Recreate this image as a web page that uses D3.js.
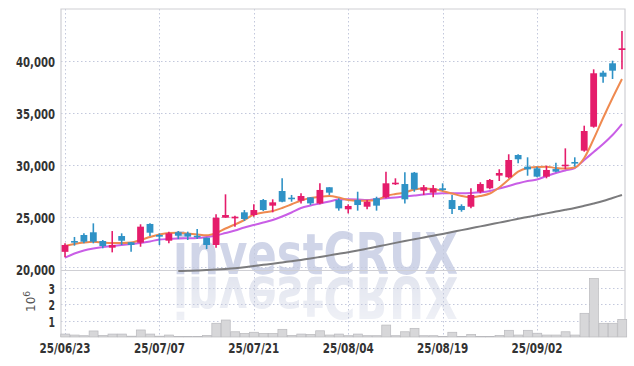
<!DOCTYPE html>
<html>
<head>
<meta charset="utf-8">
<script src="https://cdnjs.cloudflare.com/ajax/libs/d3/7.8.5/d3.min.js"></script>
<style>
body { margin: 0; background: #fff; }
svg { display: block; }
</style>
</head>
<body>
<div class="chart"></div>
<script>
var dates = [
    '25/06/23', '25/06/24', '25/06/25', '25/06/26', '25/06/27', '25/06/30',
    '25/07/01', '25/07/02', '25/07/03', '25/07/04', '25/07/07', '25/07/08', '25/07/09', '25/07/10', '25/07/11',
    '25/07/14', '25/07/15', '25/07/16', '25/07/17', '25/07/18', '25/07/21', '25/07/22', '25/07/23', '25/07/24',
    '25/07/25', '25/07/28', '25/07/29', '25/07/30', '25/07/31',
    '25/08/01', '25/08/04', '25/08/05', '25/08/06', '25/08/07', '25/08/08', '25/08/11', '25/08/12', '25/08/13',
    '25/08/14', '25/08/18', '25/08/19', '25/08/20', '25/08/21', '25/08/22', '25/08/25', '25/08/26', '25/08/27',
    '25/08/28', '25/08/29',
    '25/09/01', '25/09/02', '25/09/03', '25/09/04', '25/09/05', '25/09/08', '25/09/09', '25/09/10', '25/09/11',
    '25/09/12', '25/09/15'
]
var openP = [21650, 22690, 23270, 23530, 22690, 22050, 23170, 22570, 22530, 24330,
    23270, 22720, 23530, 23430, 23200, 23010, 22310, 24930, 24870, 25450,
    25190, 26630, 26090, 27500, 26860, 26570, 26890, 26310, 27860, 26630,
    25740, 26630, 25990, 26800, 26890, 28170, 28170, 29260, 27530, 27340,
    27760, 26630, 26060, 25990, 27430, 27760, 28980, 28820, 30960, 29840,
    29680, 28880, 29610, 29940, 30290, 31380, 33680, 38880, 39780, 41060]
var highP = [22470, 23080, 23430, 24390, 22790, 23650, 23430, 22600, 24300, 24400,
    23430, 23590, 23650, 23590, 23850, 23010, 25260, 27180, 25130, 25670,
    26220, 26730, 26700, 28720, 27120, 27280, 26890, 28240, 27860, 26800,
    26220, 27430, 26630, 26950, 29360, 28720, 29300, 29330, 28080, 28080,
    28240, 27120, 26220, 27760, 28340, 28650, 29590, 31030, 31030, 30740,
    29840, 29930, 30220, 31600, 30740, 33780, 39200, 39070, 40030, 42880]
var lowP = [21120, 22240, 22470, 22470, 21990, 21600, 22310, 21660, 22140, 23170,
    22310, 22470, 22880, 22790, 22880, 21920, 22050, 24930, 24070, 24620,
    25030, 25580, 25450, 26410, 26470, 26310, 26150, 26220, 27120, 25610,
    25350, 25610, 25740, 25610, 26800, 28080, 26310, 27430, 27120, 26890,
    27530, 25290, 25510, 25830, 27280, 27660, 28460, 28720, 30160, 28970,
    28820, 28720, 29300, 29590, 29840, 31280, 33590, 37920, 38270, 39200]
var closeP = [22310, 22600, 22625, 22625, 22210, 22310, 22720, 22310, 24070, 23490,
    23110, 23430, 23200, 23110, 23050, 22310, 24930, 25190, 25030, 24810,
    25670, 25670, 26410, 26470, 26800, 27020, 26310, 27600, 27340, 25830,
    26060, 26150, 26470, 26090, 28240, 28300, 26700, 27660, 27860, 27760,
    27600, 25770, 25670, 27120, 28170, 28560, 29230, 30480, 30550, 29580,
    28880, 29520, 29360, 30030, 30190, 33270, 38820, 38490, 39070, 41220]
var volume = [0.18, 0.12, 0.08, 0.37, 0.10, 0.18, 0.18, 0.05, 0.43, 0.18,
    0.05, 0.12, 0.03, 0.03, 0.03, 0.10, 0.84, 1.04, 0.32, 0.22,
    0.29, 0.22, 0.22, 0.47, 0.10, 0.18, 0.16, 0.38, 0.12, 0.18,
    0.08, 0.18, 0.08, 0.08, 0.73, 0.08, 0.32, 0.53, 0.08, 0.08,
    0.04, 0.29, 0.04, 0.16, 0.04, 0.04, 0.10, 0.41, 0.12, 0.41,
    0.23, 0.12, 0.12, 0.32, 0.12, 1.45, 3.58, 0.84, 0.84, 1.08]
// moving averages (orange = short, violet = mid, gray = long)
var maShort = [22211, 22404, 22548, 22625, 22548, 22500, 22500, 22548, 22788, 23077,
    23317, 23462, 23490, 23413, 23317, 23240, 23462, 23894, 24279, 24712,
    25240, 25433, 25577, 25865, 26221, 26587, 26827, 26952, 27019, 26875,
    26635, 26567, 26567, 26635, 27019, 27212, 27356, 27644, 27740, 27692,
    27500, 27260, 27019, 26894, 27019, 27260, 27837, 28606, 29356, 29712,
    29808, 29837, 29712, 29663, 29760, 30673, 32500, 34519, 36442, 38269]
var maMid = [21087, 21490, 21779, 21971, 22115, 22212, 22308, 22404, 22500, 22644,
    22837, 22885, 22933, 22952, 22981, 23077, 23221, 23462, 23702, 23990,
    24231, 24471, 24712, 25048, 25433, 25865, 26106, 26298, 26490, 26683,
    26702, 26683, 26635, 26731, 26798, 26875, 26971, 27067, 27163, 27231,
    27279, 27279, 27279, 27308, 27375, 27500, 27740, 27981, 28240, 28462,
    28606, 28942, 29231, 29471, 29712, 30481, 31250, 32019, 32885, 33942]
var maLong = [null, null, null, null, null, null, null, null, null, null,
    null, null, 19810, 19830, 19860, 19900, 19950, 20010, 20080, 20170,
    20290, 20400, 20510, 20630, 20750, 20870, 21010, 21160, 21310, 21460,
    21610, 21780, 21960, 22140, 22320, 22510, 22690, 22860, 23030, 23200,
    23370, 23550, 23740, 23920, 24100, 24280, 24460, 24640, 24830, 25000,
    25170, 25350, 25520, 25690, 25870, 26080, 26300, 26540, 26830, 27120]
var priceTicks = [20000, 25000, 30000, 35000, 40000]
var volTicks = [1, 2, 3]
var dateTicks = ['25/06/23', '25/07/07', '25/07/21', '25/08/04', '25/08/19', '25/09/02']

var W = 634, H = 366
var pLeft = 61, pRight = 625, pTop = 9, pSplit = 270, pBottom = 337
var upColor = '#e51c6b', downColor = '#2f92c6'
var gridColor = '#c3c8dc'
var labelFont = "'DejaVu Sans', sans-serif"

var svg = d3.select('.chart')
    .append('svg')
    .attr('width', W)
    .attr('height', H)

var data = dates.map(function (d, i) {
    return {date: d, o: openP[i], h: highP[i], l: lowP[i], c: closeP[i], v: volume[i],
        m1: maShort[i], m2: maMid[i], m3: maLong[i]}
})

var xScale = d3.scaleBand()
    .domain(dates)
    .range([60.3, 60.3 + 9.44 * dates.length])
    .padding(0)
var bw = xScale.bandwidth()
function cx(d) { return xScale(d) + bw / 2 }

var yScale = d3.scaleLinear()
    .domain([20000, 45000])
    .range([269, pTop])

var vScale = d3.scaleLinear()
    .domain([0, 4.1])
    .range([pBottom, pSplit])

// watermark + reflection
var defs = svg.append('defs')
var grad = defs.append('linearGradient')
    .attr('id', 'fade')
    .attr('x1', 0).attr('y1', 0).attr('x2', 0).attr('y2', 1)
grad.append('stop').attr('offset', '0%').attr('stop-color', '#fff').attr('stop-opacity', 1)
grad.append('stop').attr('offset', '100%').attr('stop-color', '#fff').attr('stop-opacity', 0.5)
defs.append('mask').attr('id', 'wmMask')
    .append('rect')
    .attr('x', 0).attr('y', 276).attr('width', W).attr('height', 50)
    .attr('fill', 'url(#fade)')

function wmText(g, fill) {
    return g.append('text')
        .attr('x', 173).attr('y', 274)
        .attr('textLength', 285)
        .attr('lengthAdjust', 'spacingAndGlyphs')
        .style('font-family', "'DejaVu Sans', sans-serif")
        .style('font-weight', 'bold')
        .style('font-size', '57px')
        .attr('fill', fill)
        .text('investCRUX')
}
var wm = svg.append('g')
wmText(wm, '#d0d5e8')
wmText(wm.append('g').attr('mask', 'url(#wmMask)'), '#e2e5ef')
    .attr('transform', 'translate(0,551) scale(1,-1)')

// grid
var grid = svg.append('g')
    .attr('stroke', gridColor)
    .attr('stroke-width', 1)
    .attr('stroke-dasharray', '1.5,2.5')
grid.selectAll('.hp')
    .data(priceTicks.slice(1))
    .enter().append('line')
    .attr('x1', pLeft).attr('x2', pRight)
    .attr('y1', function (d) { return Math.round(yScale(d)) + 0.5 })
    .attr('y2', function (d) { return Math.round(yScale(d)) + 0.5 })
grid.append('line')
    .attr('x1', pLeft).attr('x2', pRight)
    .attr('y1', 267.5).attr('y2', 267.5)
grid.selectAll('.hv')
    .data(volTicks)
    .enter().append('line')
    .attr('x1', pLeft).attr('x2', pRight)
    .attr('y1', function (d) { return Math.round(vScale(d)) + 0.5 })
    .attr('y2', function (d) { return Math.round(vScale(d)) + 0.5 })
grid.selectAll('.vg')
    .data(dateTicks)
    .enter().append('line')
    .attr('x1', function (d) { return Math.round(cx(d)) + 0.5 })
    .attr('x2', function (d) { return Math.round(cx(d)) + 0.5 })
    .attr('y1', pTop).attr('y2', pBottom)

// frame
var frame = svg.append('g').attr('stroke', '#cfcfd4').attr('stroke-width', 1.2).attr('fill', 'none')
frame.append('path')
    .attr('d', 'M' + pLeft + ',' + pBottom + 'V' + pTop + 'H' + pRight + 'V' + pBottom)
frame.append('line')
    .attr('x1', pLeft).attr('x2', pRight)
    .attr('y1', pSplit + 0.5).attr('y2', pSplit + 0.5)

// volume bars
svg.append('g')
    .selectAll('.vol')
    .data(data)
    .enter().append('rect')
    .attr('class', 'vol')
    .attr('x', function (d) { return xScale(d.date) + 0.5 })
    .attr('width', bw - 0.5)
    .attr('y', function (d) { return vScale(d.v) })
    .attr('height', function (d) { return pBottom - vScale(d.v) })
    .attr('fill', '#d7d7d9')
    .attr('stroke', '#b9b9bd')
    .attr('stroke-width', 0.7)

// moving averages
function maLine(key) {
    return d3.line()
        .defined(function (d) { return d[key] != null })
        .x(function (d) { return cx(d.date) })
        .y(function (d) { return yScale(d[key]) })
        .curve(d3.curveMonotoneX)
}
svg.append('path').datum(data)
    .attr('d', maLine('m3'))
    .attr('fill', 'none').attr('stroke', '#7b7b7d').attr('stroke-width', 2)
svg.append('path').datum(data)
    .attr('d', maLine('m2'))
    .attr('fill', 'none').attr('stroke', '#c95ee6').attr('stroke-width', 2)
svg.append('path').datum(data)
    .attr('d', maLine('m1'))
    .attr('fill', 'none').attr('stroke', '#ef8a50').attr('stroke-width', 2)

// candles
var candles = svg.append('g')
    .selectAll('.candle')
    .data(data)
    .enter().append('g')
    .attr('class', 'candle')
candles.append('line')
    .attr('x1', function (d) { return cx(d.date) })
    .attr('x2', function (d) { return cx(d.date) })
    .attr('y1', function (d) { return yScale(d.h) })
    .attr('y2', function (d) { return yScale(d.l) })
    .attr('stroke', function (d) { return d.c >= d.o ? upColor : downColor })
    .attr('stroke-width', 1.6)
candles.append('rect')
    .attr('x', function (d) { return cx(d.date) - 3.4 })
    .attr('width', 6.8)
    .attr('y', function (d) { return yScale(Math.max(d.o, d.c)) })
    .attr('height', function (d) { return Math.max(1.6, Math.abs(yScale(d.o) - yScale(d.c))) })
    .attr('fill', function (d) { return d.c >= d.o ? upColor : downColor })

// axis labels
function styleLabels(g, len) {
    g.select('.domain').remove()
    g.selectAll('text')
        .style('font-family', labelFont)
        .style('font-size', '14.5px')
        .style('font-weight', 'bold')
        .attr('fill', '#333')
        .attr('textLength', function (d) { return len(String(d)) })
        .attr('lengthAdjust', 'spacingAndGlyphs')
}

var yAxis = d3.axisLeft(yScale)
    .tickValues(priceTicks)
    .tickSize(0)
    .tickPadding(6)
    .tickFormat(d3.format(','))
var gy = svg.append('g')
    .attr('transform', 'translate(' + pLeft + ',1)')
    .call(yAxis)
styleLabels(gy, function () { return 39 })

var vAxis = d3.axisLeft(vScale)
    .tickValues(volTicks)
    .tickSize(0)
    .tickPadding(6)
    .tickFormat(d3.format('d'))
var gv = svg.append('g')
    .attr('transform', 'translate(' + pLeft + ',1)')
    .call(vAxis)
styleLabels(gv, function () { return 6.5 })

var unit = svg.append('text')
    .attr('transform', 'translate(35,312) rotate(-90)')
    .style('font-family', "'DejaVu Sans', sans-serif")
    .style('font-size', '12px')
    .attr('fill', '#555')
unit.append('tspan').text('10')
unit.append('tspan').attr('dy', -5).style('font-size', '9px').text('6')

var xAxis = d3.axisBottom(xScale)
    .tickValues(dateTicks)
    .tickSize(0)
    .tickPadding(6)
var gx = svg.append('g')
    .attr('transform', 'translate(0,' + pBottom + ')')
    .call(xAxis)
styleLabels(gx, function () { return 51 })
</script>
</body>
</html>
